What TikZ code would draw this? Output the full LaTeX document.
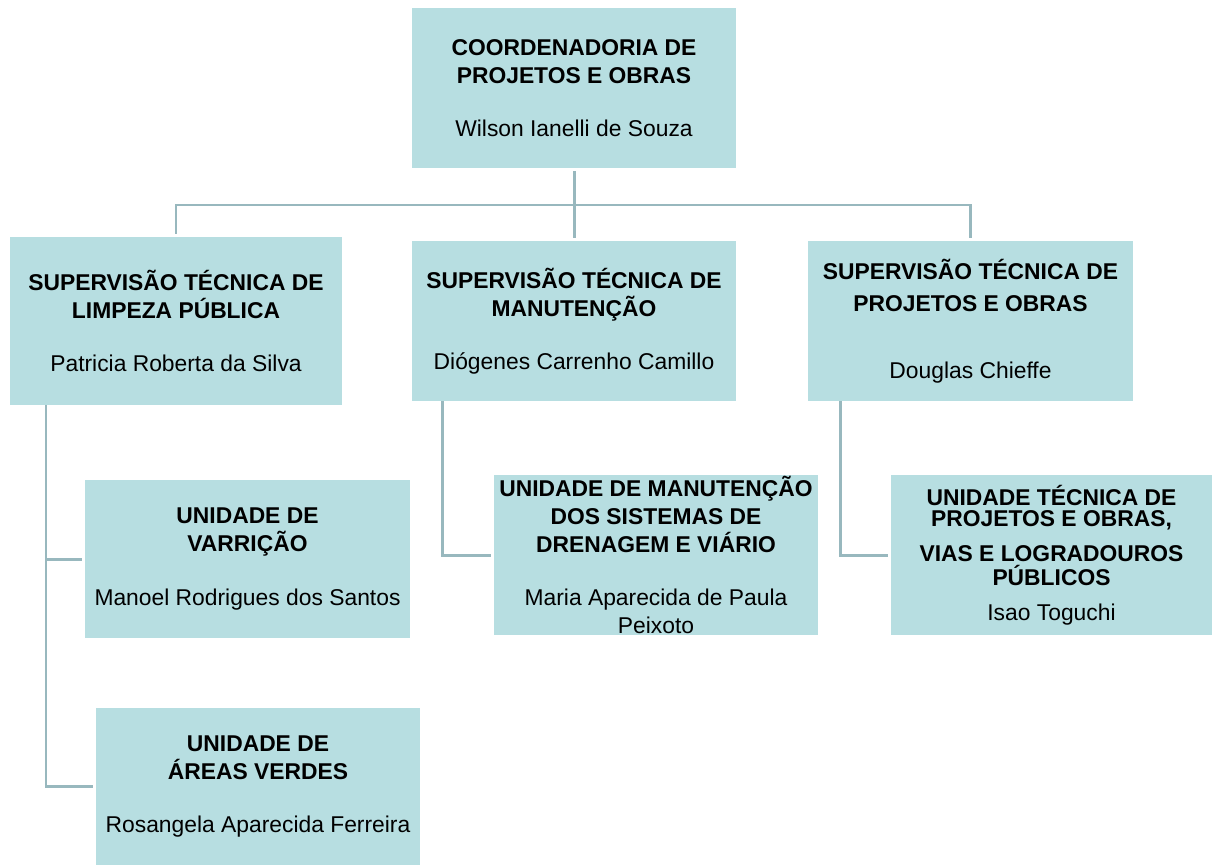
\documentclass[tikz,border=0pt]{standalone}
\usepackage{fontspec}
\setmainfont{Liberation Sans}
\definecolor{boxfill}{RGB}{183,222,225}
\definecolor{linkgray}{RGB}{152,184,190}
\tikzset{
  orgbox/.style={fill=boxfill, inner sep=0pt, outer sep=2pt, align=center,
    font=\fontsize{13}{15.9}\selectfont},
  orglink/.style={draw=linkgray, line width=1.7pt}
}
\begin{document}
\begin{tikzpicture}[x=0.02cm,y=-0.02cm]
			\useasboundingbox (0,0) rectangle (1212,865);
			\node[orgbox, minimum width=6.48cm, minimum height=3.2cm] (coord) at (574,88)
				{\textbf{COORDENADORIA DE}\\\textbf{PROJETOS E OBRAS}\\[14.5pt]Wilson Ianelli de Souza};
			\node[orgbox, minimum width=6.64cm, minimum height=3.36cm] (suplimp) at (176,321)
				{\textbf{SUPERVISÃO TÉCNICA DE}\\\textbf{LIMPEZA PÚBLICA}\\[14.5pt]Patricia Roberta da Silva};
			\node[orgbox, minimum width=6.48cm, minimum height=3.2cm] (supman) at (574,321)
				{\textbf{SUPERVISÃO TÉCNICA DE}\\\textbf{MANUTENÇÃO}\\[14.5pt]Diógenes Carrenho Camillo};
			\node[orgbox, minimum width=6.5cm, minimum height=3.2cm] (supproj) at (970.5,321)
				{\textbf{SUPERVISÃO TÉCNICA DE}\\[2.5pt]\textbf{PROJETOS E OBRAS}\\[22pt]Douglas Chieffe};
			\node[orgbox, minimum width=6.5cm, minimum height=3.16cm] (unvar) at (247.5,559)
				{\textbf{UNIDADE DE}\\\textbf{VARRIÇÃO}\\[14.5pt]Manoel Rodrigues dos Santos};
			\node[orgbox, minimum width=6.48cm, minimum height=3.14cm] (unareas) at (258,786.5)
				{\textbf{UNIDADE DE}\\\textbf{ÁREAS VERDES}\\[14.5pt]Rosangela Aparecida Ferreira};
			\node[orgbox, minimum width=6.48cm, minimum height=3.2cm] (undren) at (656,555)
				{\textbf{UNIDADE DE MANUTENÇÃO}\\\textbf{DOS SISTEMAS DE}\\\textbf{DRENAGEM E VIÁRIO}\\[14.5pt]Maria Aparecida de Paula\\Peixoto};
			\node[orgbox, minimum width=6.42cm, minimum height=3.2cm] (untec) at (1051.5,555)
				{\textbf{UNIDADE TÉCNICA DE}\\[-4pt]\textbf{PROJETOS E OBRAS,}\\[4pt]\textbf{VIAS E LOGRADOUROS}\\[-2.3pt]\textbf{PÚBLICOS}\\[4pt]Isao Toguchi};
			% connectors
			\coordinate (bar) at (574,205);
			\coordinate (ltrunk) at (46,405);
			\coordinate (mtrunk) at (442,401);
			\coordinate (rtrunk) at (840,401);
			\draw[orglink] (coord.south) -- (supman.north);
			\draw[orglink] (suplimp.north) |- (bar) -| (supproj.north);
			\draw[orglink] (ltrunk) |- (unvar.west);
			\draw[orglink] (ltrunk) |- (unareas.west);
			\draw[orglink] (mtrunk) |- (undren.west);
			\draw[orglink] (rtrunk) |- (untec.west);
		\end{tikzpicture}
\end{document}
